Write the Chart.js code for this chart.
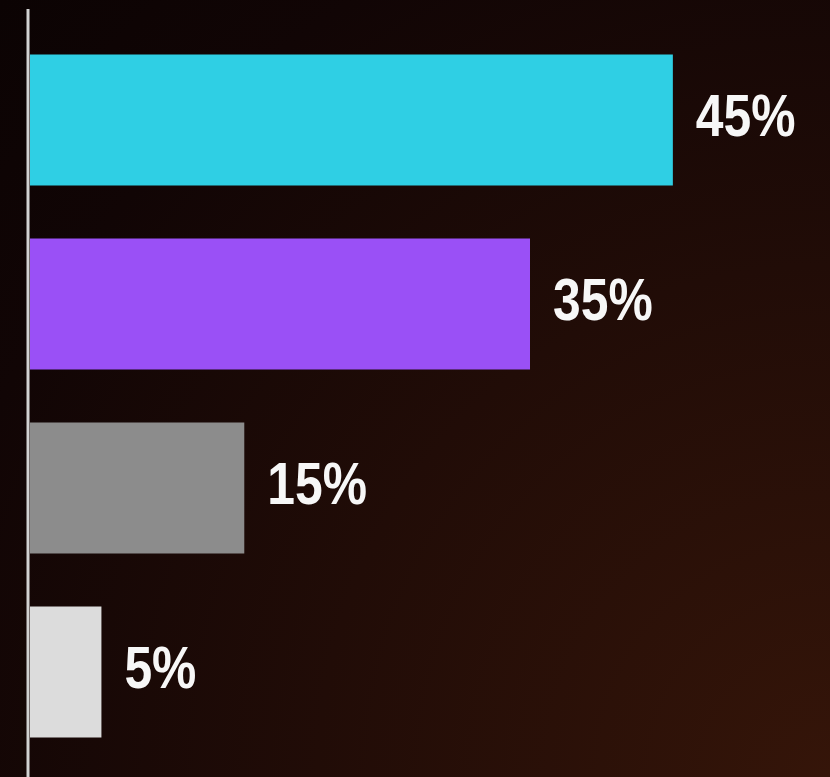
<!DOCTYPE html>
<html>
<head>
<meta charset="utf-8">
<script src="https://cdn.jsdelivr.net/npm/chart.js@4"></script>
<style>
    html, body { margin: 0; padding: 0; }
    body {
        width: 830px; height: 777px; overflow: hidden;
        background: radial-gradient(circle at 100% 100%, #351509 0%, #210c07 45%, #110505 80%, #0b0303 100%);
    }
    #wrap { position: relative; width: 830px; height: 777px; }
</style>
</head>
<body>
<div id="wrap"><canvas id="shareChart"></canvas></div>
<script>
// --- Data ---
const categories = ['A', 'B', 'C', 'D'];
const shares = [45, 35, 15, 5];
const barColors = ['#2fcfe4', '#9a50f6', '#8c8c8c', '#dcdcdc'];

// --- Axis line (runs past the plot area, like the original) ---
const axisLine = {
    id: 'axisLine',
    afterDatasetsDraw(chart) {
        const ctx = chart.ctx;
        const x = chart.chartArea.left - 2;
        ctx.save();
        ctx.strokeStyle = '#d2d2d2';
        ctx.lineWidth = 3;
        ctx.beginPath();
        ctx.moveTo(x, 9);
        ctx.lineTo(x, chart.height);
        ctx.stroke();
        ctx.restore();
    }
};

// --- Percent labels at the end of each bar (condensed bold) ---
const barLabels = {
    id: 'barLabels',
    afterDatasetsDraw(chart) {
        const ctx = chart.ctx;
        const meta = chart.getDatasetMeta(0);
        meta.data.forEach((bar, i) => {
            ctx.save();
            ctx.fillStyle = '#f7f7f7';
            ctx.font = 'bold 60px "Liberation Sans", Arial, sans-serif';
            ctx.textAlign = 'left';
            ctx.textBaseline = 'middle';
            ctx.translate(bar.x + 23, bar.y - 1);
            ctx.scale(0.83, 1);
            ctx.fillText(shares[i] + '%', 0, 0);
            ctx.restore();
        });
    }
};

new Chart(document.getElementById('shareChart'), {
    type: 'bar',
    data: {
        labels: categories,
        datasets: [{
            data: shares,
            backgroundColor: barColors,
            borderWidth: 0,
            barPercentage: 0.712,
            categoryPercentage: 1
        }]
    },
    options: {
        indexAxis: 'y',
        responsive: true,
        maintainAspectRatio: false,
        animation: false,
        layout: { padding: { left: 30, right: 0, top: 28, bottom: 13 } },
        scales: {
            x: { display: false, min: 0, max: 56 },
            y: { display: false }
        },
        plugins: {
            legend: { display: false },
            tooltip: { enabled: false }
        }
    },
    plugins: [axisLine, barLabels]
});
</script>
</body>
</html>
